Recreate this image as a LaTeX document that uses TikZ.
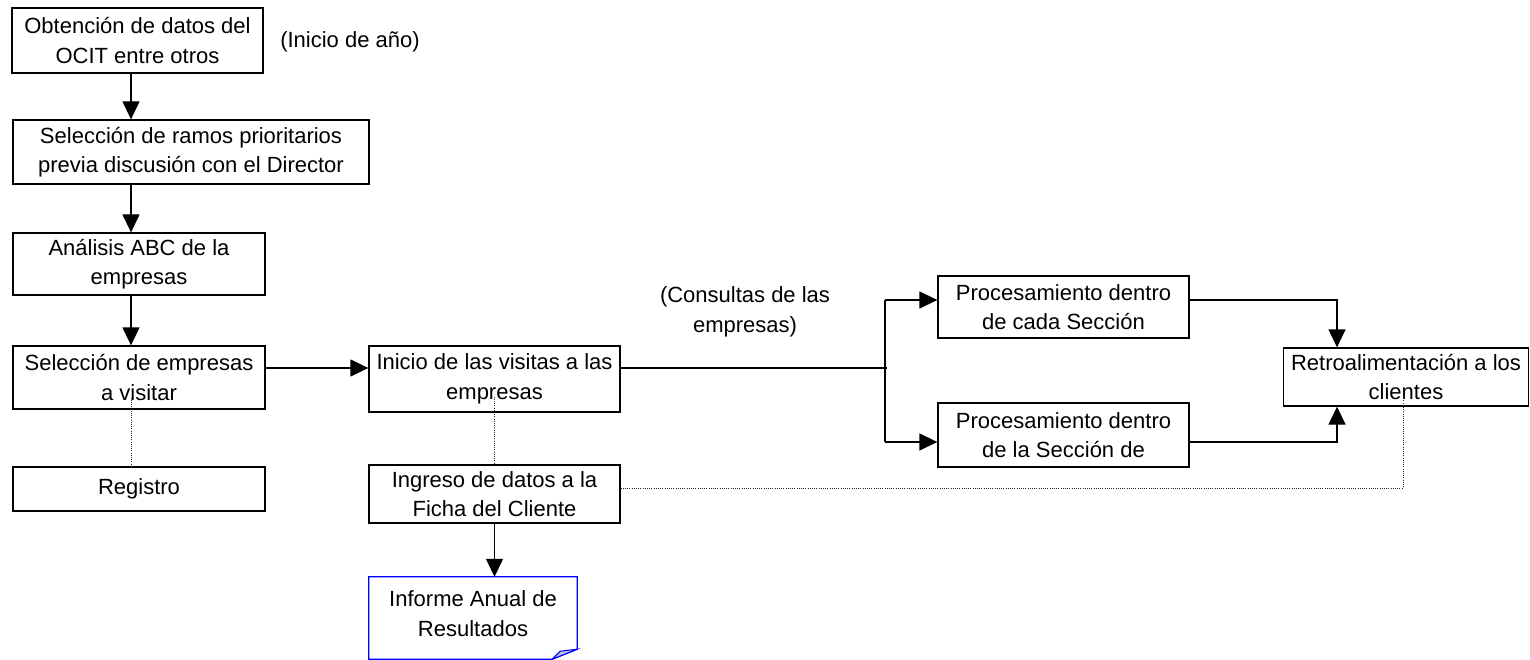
\documentclass[tikz,border=0pt]{standalone}
\usepackage{fontspec}
\setmainfont{Liberation Sans}
\usetikzlibrary{arrows.meta}
\begin{document}
\begin{tikzpicture}[x=1pt,y=-1pt,
  every node/.style={font=\fontsize{22}{29.5}\selectfont},
  box/.style={draw=black,line width=1.3pt,rectangle,inner sep=0pt,align=center},
  plain/.style={inner sep=0pt,align=center},
  arr/.style={line width=1.3pt,-{Triangle[length=18pt,width=17pt]}},
  link/.style={line width=1.3pt},
  dotline/.style={line width=0.9pt,dash pattern=on 1pt off 1.2pt,draw=black!85}]
\useasboundingbox (0,0) rectangle (1530,660);

% left column
\node[box,minimum width=251,minimum height=65] (b1) at (137.5,40.5) {Obtención de datos del\\OCIT entre otros};
\node[plain] (inicio) at (350,42) {(Inicio de año)};
\node[box,minimum width=356,minimum height=64] (b2) at (191,152) {Selección de ramos prioritarios\\previa discusión con el Director};
\node[box,minimum width=252,minimum height=62] (b3) at (139,264) {Análisis ABC de la\\empresas};
\node[box,minimum width=252,minimum height=63] (b4) at (139,377.5) {Selección de empresas\\a visitar};
\node[box,minimum width=252,minimum height=44] (reg) at (139,489) {Registro};

% middle column
\node[box,minimum width=251,minimum height=66] (ini) at (494.5,379) {Inicio de las visitas a las\\empresas};
\node[box,minimum width=251,minimum height=58] (ing) at (494.5,494) {Ingreso de datos a la\\Ficha del Cliente};
\node[minimum width=208,minimum height=82,inner sep=0pt] (inf) at (473,618) {};
\node[plain] (inftext) at (473,613.5) {Informe Anual de\\Resultados};
\node[plain] (consultas) at (745,312) {(Consultas de las\\empresas)};

% right part
\node[box,minimum width=251,minimum height=62] (p1) at (1063.5,307) {Procesamiento dentro\\de cada Sección};
\node[box,minimum width=251,minimum height=64] (p2) at (1063.5,435) {Procesamiento dentro\\de la Sección de};
\node[box,minimum width=245,minimum height=58] (retro) at (1406,377) {Retroalimentación a los\\clientes};

% document shape with folded corner
\draw[draw={rgb,255:red,0;green,0;blue,255},line width=1.3pt]
  (inf.north west) -- (inf.north east) -- ([shift={(0,-10)}]inf.south east)
  -- ([shift={(-25,0)}]inf.south east) -- (inf.south west) -- cycle;
\draw[draw={rgb,255:red,0;green,0;blue,255},line width=1pt,fill={rgb,255:red,185;green,190;blue,225}]
  ([shift={(0,-10)}]inf.south east) -- ([shift={(-17,-8)}]inf.south east)
  -- ([shift={(-25,0)}]inf.south east) -- cycle;

% helper coordinates
\coordinate (colx) at (131,0);
\coordinate (midrow) at (0,368);
\coordinate (br) at (887,368);
\coordinate (bt) at (885,300);
\coordinate (bb) at (885,442);
\coordinate (rx) at (1337,0);
\coordinate (dotrow) at (0,488);

% left column arrows
\draw[arr] (b1.south -| colx) -- (b2.north -| colx);
\draw[arr] (b2.south -| colx) -- (b3.north -| colx);
\draw[arr] (b3.south -| colx) -- (b4.north -| colx);
\draw[dotline] ([shift={(0,-12)}]b4.south -| colx) -- (reg.north -| colx);

% main flow
\draw[arr] (b4.east |- midrow) -- (ini.west |- midrow);
\draw[link] (ini.east |- midrow) -- (br);
\draw[link] (bt) -- (bb);
\draw[arr] (bt) -- (p1.west |- bt);
\draw[arr] (bb) -- (p2.west |- bb);
\draw[arr] (p1.east |- bt) -| (rx |- retro.north);
\draw[arr] (p2.east |- bb) -| (rx |- retro.south);

% middle column links
\draw[dotline] ([shift={(0,-16)}]ini.south) -- (ing.north);
\draw[arr] (ing.south) -- (ing.south |- inf.north);
\draw[dotline] (ing.east |- dotrow) -| ([shift={(-3,-10)}]retro.south);
\end{tikzpicture}
\end{document}
